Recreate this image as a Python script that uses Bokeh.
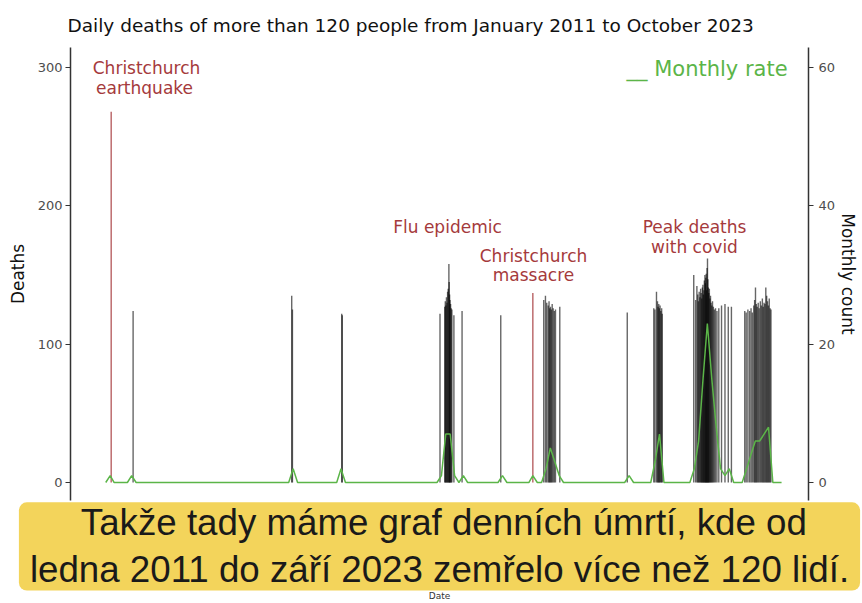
import pandas as pd
from bokeh.plotting import figure
from bokeh.models import (Range1d, LinearAxis, Label, FixedTicker, Title,
                          ColumnDataSource)
from bokeh.embed import file_html
from bokeh.resources import INLINE

# ---------------- data ----------------
# days with more than 120 deaths (black spikes)
spike_dates = [
    "2011-07-25", "2014-08-05", "2014-08-10", "2015-07-20", "2015-07-24",
    "2017-06-05",
    "2017-07-08", "2017-07-12", "2017-07-16", "2017-07-20", "2017-07-24",
    "2017-07-28", "2017-08-01", "2017-08-06", "2017-08-08", "2017-08-11",
    "2017-08-14", "2017-08-18", "2017-08-22", "2017-08-27", "2017-09-10",
    "2017-11-06",
    "2018-08-03",
    "2019-05-30", "2019-06-11", "2019-06-20", "2019-06-30", "2019-07-06",
    "2019-07-11", "2019-07-16", "2019-07-22", "2019-07-28", "2019-08-04",
    "2019-08-12", "2019-08-20", "2019-09-19",
    "2021-01-02",
    "2021-07-06", "2021-07-14", "2021-07-25", "2021-08-01", "2021-08-05",
    "2021-08-10", "2021-08-14", "2021-08-19", "2021-08-24", "2021-08-30",
    "2021-09-03",
    "2022-04-11", "2022-04-24", "2022-05-03", "2022-05-09", "2022-05-14",
    "2022-05-19", "2022-05-24", "2022-05-29", "2022-06-02", "2022-06-06",
    "2022-06-10", "2022-06-14", "2022-06-17", "2022-06-21", "2022-06-24",
    "2022-06-28", "2022-07-01", "2022-07-04", "2022-07-07", "2022-07-10",
    "2022-07-13", "2022-07-16", "2022-07-19", "2022-07-22", "2022-07-25",
    "2022-07-29", "2022-08-02", "2022-08-06", "2022-08-10", "2022-08-15",
    "2022-08-20", "2022-08-26", "2022-09-02", "2022-09-10", "2022-09-20",
    "2022-10-03", "2022-10-22", "2022-11-15", "2022-12-08", "2022-12-30",
    "2023-04-02", "2023-04-12", "2023-04-24", "2023-05-06", "2023-05-16",
    "2023-05-25", "2023-06-04", "2023-06-10", "2023-06-16", "2023-06-22",
    "2023-06-28", "2023-07-05", "2023-07-12", "2023-07-20", "2023-07-27",
    "2023-08-03", "2023-08-09", "2023-08-15", "2023-08-21", "2023-08-27",
    "2023-09-02", "2023-09-08", "2023-09-14", "2023-09-20", "2023-09-26",
    "2023-10-02",
]
spike_deaths = [
    124, 135, 125, 122, 121,
    122,
    127, 131, 128, 134, 130,
    138, 140, 158, 145, 136,
    132, 129, 126, 125, 121,
    124,
    121,
    132, 135, 130, 128, 131,
    126, 127, 125, 129, 126,
    124, 125, 127,
    123,
    126, 125, 138, 131, 127,
    129, 126, 128, 124, 126,
    122,
    150, 132, 142, 136, 131,
    138, 134, 140, 137, 133,
    141, 143, 136, 139, 146,
    150, 144, 148, 151, 139,
    155, 162, 147, 141, 137,
    140, 133, 135, 130, 128,
    131, 127, 125, 126, 124,
    126, 128, 129, 127, 127,
    124, 123, 125, 124, 126,
    123, 128, 132, 141, 129,
    127, 130, 126, 131, 128,
    133, 127, 130, 129, 141,
    135, 131, 128, 133, 126,
    125,
]

# annotated events (red spikes)
event_dates = ["2011-02-22", "2019-03-15"]
event_deaths = [268, 137]

# monthly count of such days (months not listed have 0)
first_month = "2011-01"
last_month = "2023-12"
count_months = [
    "2011-02", "2011-07", "2014-08", "2015-07", "2017-06", "2017-07",
    "2017-08", "2017-09", "2017-11", "2018-08", "2019-03", "2019-06",
    "2019-07", "2019-08", "2019-09", "2021-01", "2021-07", "2021-08",
    "2022-04", "2022-05", "2022-06", "2022-07", "2022-08", "2022-09",
    "2022-10", "2022-11", "2022-12", "2023-04", "2023-05", "2023-06",
    "2023-07", "2023-08", "2023-09",
]
count_values = [
    1, 1, 2, 2, 1, 7,
    7, 1, 1, 1, 1, 2,
    5, 3, 1, 1, 3, 7,
    2, 6, 15, 23, 15, 8,
    2, 1, 2, 2, 4, 6,
    6, 7, 8,
]

caption_lines = [
    "Takže tady máme graf denních úmrtí, kde od",
    "ledna 2011 do září 2023 zemřelo více než 120 lidí.",
]

# ---------------- sources ----------------
spikes = ColumnDataSource(dict(date=pd.to_datetime(spike_dates), deaths=spike_deaths))
events = ColumnDataSource(dict(date=pd.to_datetime(event_dates), deaths=event_deaths))

months = pd.period_range(first_month, last_month, freq="M")
lookup = dict(zip(count_months, count_values))
monthly = ColumnDataSource(dict(
    date=months.to_timestamp() + pd.Timedelta(days=14),
    count=[lookup.get(str(m), 0) for m in months],
))

# ---------------- figure ----------------
GREEN = "#5bb548"
RED = "#a53a3c"

p = figure(width=862, height=603, x_axis_type="datetime",
           output_backend="svg", toolbar_location=None,
           x_range=Range1d(pd.Timestamp("2010-05-14"), pd.Timestamp("2024-06-20")),
           y_range=Range1d(-13, 314.5))
p.extra_y_ranges = {"count": Range1d(-2.6, 62.9)}
p.min_border_left = 70
p.min_border_right = 54
p.min_border_top = 47
p.min_border_bottom = 103
p.outline_line_color = None
p.xgrid.visible = False
p.ygrid.visible = False
p.background_fill_color = "white"
p.border_fill_color = "white"

p.title.text = "Daily deaths of more than 120 people from January 2011 to October 2023"
p.title.text_font = "DejaVu Sans"
p.title.text_font_size = "18.5px"
p.title.text_font_style = "normal"
p.title.text_color = "#111111"
p.title.standoff = 24
p.title.offset = -3

p.segment(x0="date", y0=0, x1="date", y1="deaths", source=spikes,
          line_color="black", line_alpha=0.6, line_width=1.4)
p.segment(x0="date", y0=0, x1="date", y1="deaths", source=events,
          line_color=RED, line_alpha=0.8, line_width=1.4)
p.line(x="date", y="count", source=monthly, y_range_name="count",
       line_color=GREEN, line_width=1.5)

right = LinearAxis(y_range_name="count", axis_label="Monthly count")
p.add_layout(right, "right")

left = p.yaxis[0]
left.ticker = FixedTicker(ticks=[0, 100, 200, 300])
right.ticker = FixedTicker(ticks=[0, 20, 40, 60])
left.axis_label = "Deaths"

for ax in [left, right]:
    ax.axis_line_color = "#333333"
    ax.axis_line_width = 1.5
    ax.major_tick_line_color = "#333333"
    ax.major_tick_line_width = 1.2
    ax.major_tick_out = 5
    ax.major_tick_in = 0
    ax.minor_tick_line_color = None
    ax.major_label_text_font = "DejaVu Sans"
    ax.major_label_text_font_size = "13px"
    ax.major_label_text_color = "#4d4d4d"
    ax.axis_label_text_font = "DejaVu Sans"
    ax.axis_label_text_font_size = "17px"
    ax.axis_label_text_font_style = "normal"
    ax.axis_label_text_color = "#111111"
left.major_label_standoff = 3
left.axis_label_standoff = 7
right.major_label_standoff = 5
right.axis_label_standoff = 0

# x axis: hidden under the caption box in the frame, only "Date" shows below it
xax = p.xaxis[0]
xax.ticker = FixedTicker(ticks=[])
xax.axis_label = "Date"
xax.axis_label_text_font = "DejaVu Sans"
xax.axis_label_text_font_size = "9px"
xax.axis_label_text_font_style = "normal"
xax.axis_label_text_color = "#333333"
xax.axis_label_standoff = 0
xax.axis_line_color = None
xax.major_tick_line_color = None
xax.minor_tick_line_color = None
xax.major_tick_out = 0
xax.major_label_standoff = 0

# ---------------- annotations (frame-relative screen units) ----------------
def note(text, x, y, color=RED, size="17px", align="center"):
    p.add_layout(Label(x=x, y=y, x_units="screen", y_units="screen", text=text,
                       text_font="DejaVu Sans", text_font_size=size,
                       text_color=color, text_align=align,
                       text_baseline="middle"))

note("Christchurch", 76, 433)
note("earthquake", 74, 413)
note("Flu epidemic", 377, 274)
note("Christchurch", 463, 245)
note("massacre", 463, 226)
note("Peak deaths", 624, 274)
note("with covid", 624, 254)
note("__ Monthly rate", 556, 432, color=GREEN, size="21px", align="left")

# subtitle box of the video frame, laid out just below the plot frame
# (non-breaking spaces centre the shorter first line inside the box)
caption = Title(
    text="\u00a0" * 5 + caption_lines[0] + "\n" + caption_lines[1],
    align="center", text_font="Liberation Sans", text_font_size="36.7px",
    text_font_style="normal", text_color="#1a1a1a", text_line_height=1.15,
    background_fill_color="#f3d45b", background_fill_alpha=1.0,
    padding=(11, 0), border_radius=8, standoff=0)
p.below = [caption, xax]

open("out.html", "w").write(file_html(p, INLINE))
